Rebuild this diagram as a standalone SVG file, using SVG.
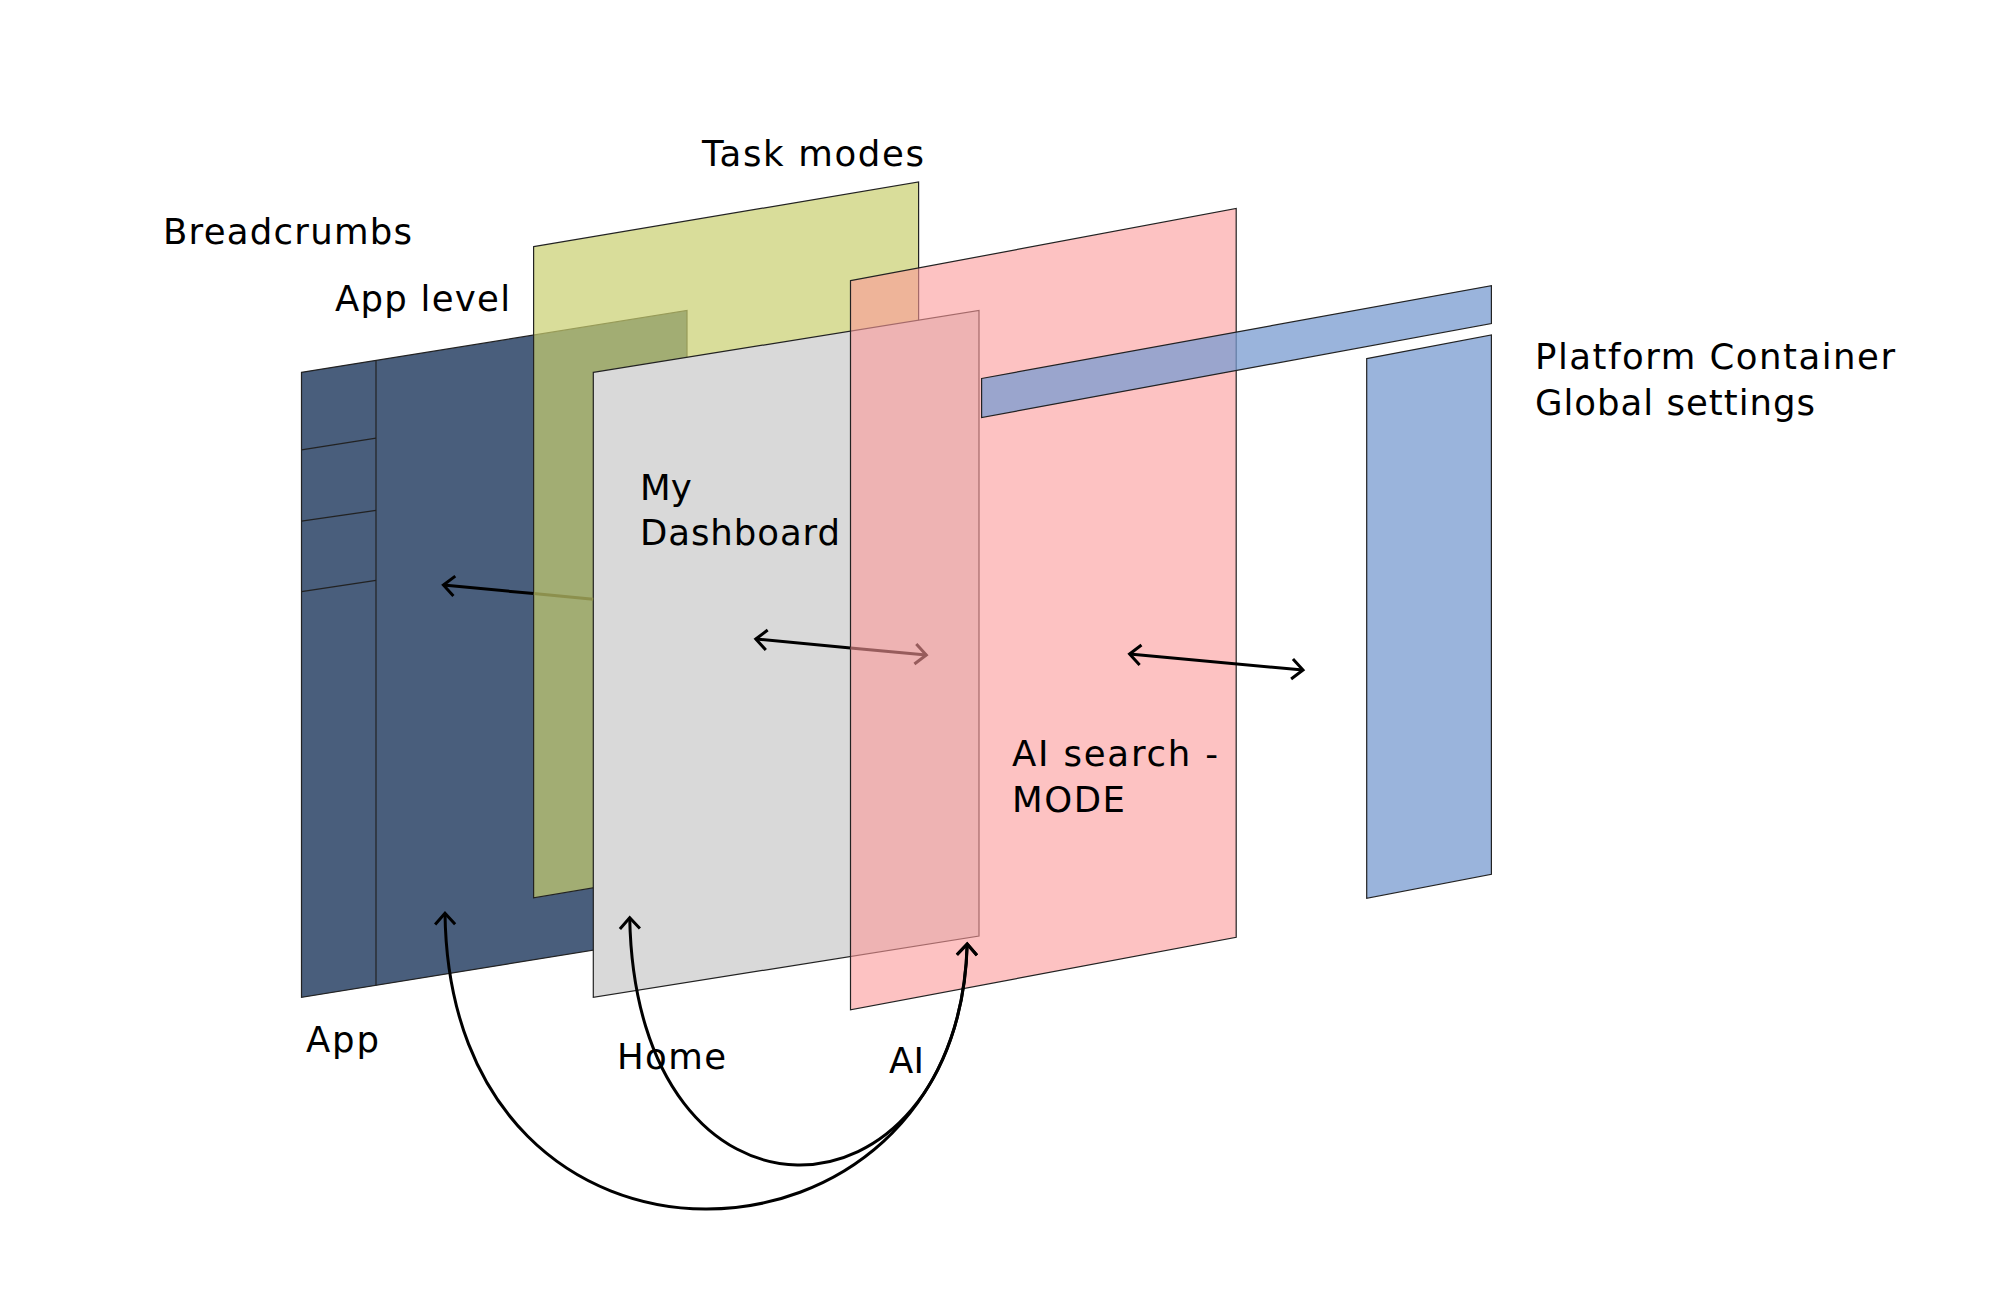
<svg xmlns="http://www.w3.org/2000/svg" width="2016" height="1300" viewBox="0 0 2016 1300">
<style>
  .lbl{font-family:"DejaVu Sans","Noto Sans","Liberation Sans",sans-serif;font-size:35.5px;fill:#000;}
  .edge{stroke:#222;stroke-width:1.2;stroke-linejoin:miter;}
  .navy{fill:#495E7C;}
  .olive{fill:#C9CE6F;fill-opacity:0.7;}
  .gray{fill:#D9D9D9;}
  .pink{fill:#FC9999;fill-opacity:0.6;}
  .blue{fill:#789BD0;fill-opacity:0.75;}
  .con{fill:none;stroke:#000;stroke-width:3;}
  .conF1{fill:none;stroke:#8C904D;stroke-width:3;}
  .conF2{fill:none;stroke:#975C5C;stroke-width:3;}
</style>
<defs>
  <marker id="arr" markerUnits="userSpaceOnUse" orient="auto-start-reverse" overflow="visible" refX="0" refY="0" markerWidth="20" markerHeight="20">
    <path d="M-11,-10 L0,0 L-11,10" fill="none" stroke="#000" stroke-width="3"/>
  </marker>
  <marker id="arrF" markerUnits="userSpaceOnUse" orient="auto-start-reverse" overflow="visible" refX="0" refY="0" markerWidth="20" markerHeight="20">
    <path d="M-11,-10 L0,0 L-11,10" fill="none" stroke="#975C5C" stroke-width="3"/>
  </marker>
</defs>
<rect width="2016" height="1300" fill="#fff"/>

<g id="node-app">
  <polygon class="navy edge" points="301.5,372.3 687,310.5 687,935 301.5,997.4"/>
  <line class="edge" x1="376" y1="360.4" x2="376" y2="985.4"/>
  <line class="edge" x1="301.5" y1="449.8" x2="376" y2="438.2"/>
  <line class="edge" x1="301.5" y1="521.1" x2="376" y2="510.3"/>
  <line class="edge" x1="301.5" y1="591.6" x2="376" y2="580.4"/>
  <text class="lbl" x="163" y="243.5" textLength="249" lengthAdjust="spacing">Breadcrumbs</text>
  <text class="lbl" x="335" y="311" textLength="175" lengthAdjust="spacing">App level</text>
  <text class="lbl" x="306" y="1052" textLength="73" lengthAdjust="spacing">App</text>
</g>

<g id="node-task-modes">
  <polygon class="olive edge" points="533.6,246.7 918.6,182 918.6,833.2 533.6,897.9"/>
  <text class="lbl" x="702" y="166" textLength="222" lengthAdjust="spacing">Task modes</text>
</g>

<g id="node-home">
  <polygon class="gray edge" points="593.3,372.3 979,310.5 979,936 593.3,997.4"/>
  <text class="lbl" x="640" y="500">My</text>
  <text class="lbl" x="640" y="545" textLength="200" lengthAdjust="spacing">Dashboard</text>
  <text class="lbl" x="617" y="1069" textLength="109" lengthAdjust="spacing">Home</text>
</g>

<g id="node-ai">
  <polygon class="pink edge" points="850.5,280.7 1236.2,208.5 1236.2,937.3 850.5,1009.8"/>
  <text class="lbl" x="1012" y="766" textLength="206" lengthAdjust="spacing">AI search -</text>
  <text class="lbl" x="1012" y="812" textLength="113" lengthAdjust="spacing">MODE</text>
  <text class="lbl" x="889" y="1073" textLength="35" lengthAdjust="spacing">AI</text>
</g>

<g id="node-platform">
  <polygon class="blue edge" points="981.6,378.5 1491.4,285.6 1491.4,323.5 981.6,417.5"/>
  <polygon class="blue edge" points="1366.7,358.6 1491.4,335 1491.4,874.3 1366.7,898.3"/>
  <text class="lbl" x="1535" y="369" textLength="360" lengthAdjust="spacing">Platform Container</text>
  <text class="lbl" x="1535" y="415" textLength="280" lengthAdjust="spacing">Global settings</text>
</g>

<g id="connectors">
  <path class="conF1" d="M593.2,599.3 L533.6,593.6"/>
  <path class="con" d="M533.6,593.6 L443.4,585" marker-end="url(#arr)"/>
  <path class="con" d="M850.5,647.9 L755.8,639" marker-end="url(#arr)"/>
  <path class="conF2" d="M850.5,647.9 L926.3,655" marker-end="url(#arrF)"/>
  <path class="con" d="M1129.6,654 L1303,670" marker-start="url(#arr)" marker-end="url(#arr)"/>
  <path class="con" d="M445,913.3 C450,1315 960,1290 967.2,944" marker-start="url(#arr)" marker-end="url(#arr)"/>
  <path class="con" d="M629.7,917.7 C636,1250 958,1236 967.2,944" marker-start="url(#arr)" marker-end="url(#arr)"/>
</g>
</svg>
